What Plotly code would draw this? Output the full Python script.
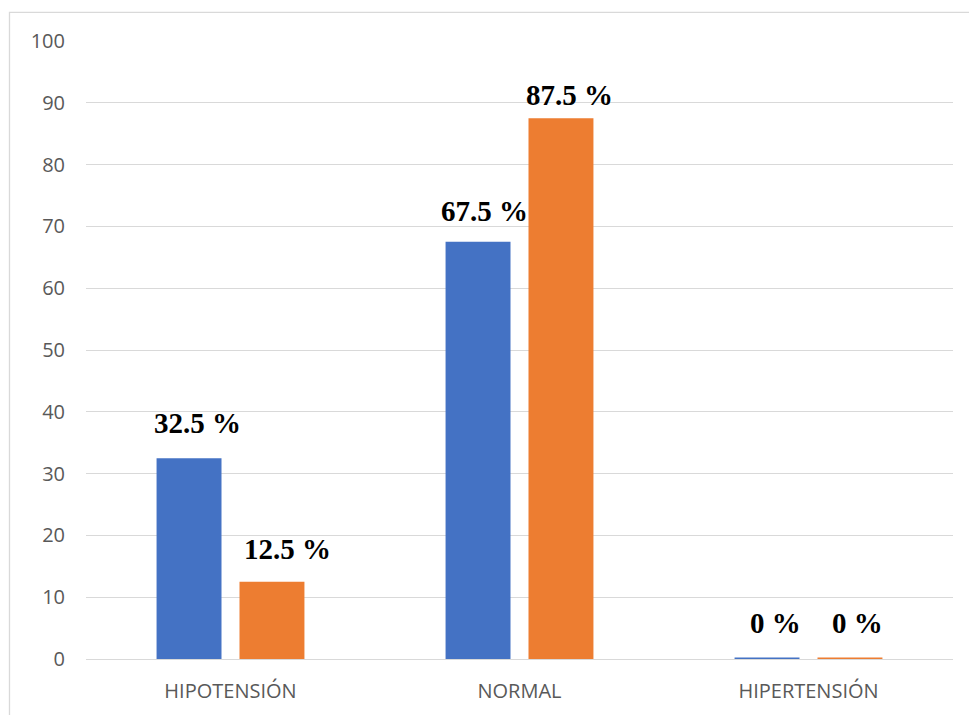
import plotly.graph_objects as go

# Blood-pressure classification, percentage per group
categories = ["HIPOTENSIÓN", "NORMAL", "HIPERTENSIÓN"]
serie_a = [32.5, 67.5, 0]
serie_b = [12.5, 87.5, 0]
y_ticks = [0, 10, 20, 30, 40, 50, 60, 70, 80, 90, 100]

BLUE = "#4472C4"
ORANGE = "#ED7D31"
GRID = "#D9D9D9"
TEXT = "#595959"

W, H = 969, 715
M_L, M_R, M_T, M_B = 86, 16, 41, 56
BARGAP, GROUPGAP = 0.426, 0.217

plot_w = W - M_L - M_R
cat_w = plot_w / len(categories)
bar_offset = (1 - BARGAP) * cat_w / 4  # pixel offset of each bar from category centre

# Label nudges (px) for each series' value labels
label_dx_a = [8, 6, 8]
label_dx_b = [16, 9, 8]
label_dy_a = [17, 13, 18]
label_dy_b = [15, 5, 18]

fig = go.Figure()
for vals, color in ((serie_a, BLUE), (serie_b, ORANGE)):
    fig.add_trace(go.Bar(
        x=categories, y=vals,
        marker=dict(color=color, line=dict(color=color, width=[0 if v else 3 for v in vals])),
        hoverinfo="skip",
    ))

label_font = dict(family="Liberation Serif", size=29, color="#000000")
for vals, side, dxs, dys in ((serie_a, -1, label_dx_a, label_dy_a), (serie_b, 1, label_dx_b, label_dy_b)):
    for cat, v, dx, dy in zip(categories, vals, dxs, dys):
        fig.add_annotation(
            x=cat, y=v, xref="x", yref="y",
            text=f"<b>{v:g} %</b>", showarrow=False,
            xanchor="center", yanchor="bottom",
            xshift=side * bar_offset + dx, yshift=dy,
            font=label_font,
        )

# Outer chart frame
fig.add_shape(
    type="rect", xref="paper", yref="paper",
    x0=(9.5 - M_L) / plot_w, x1=1.1,
    y0=-0.2, y1=1 + (M_T - 12.3) / (H - M_T - M_B),
    line=dict(color=GRID, width=1.3), fillcolor="rgba(0,0,0,0)", layer="below",
)

fig.update_layout(
    width=W, height=H,
    margin=dict(l=M_L, r=M_R, t=M_T, b=M_B),
    paper_bgcolor="white", plot_bgcolor="white",
    barmode="group", bargap=BARGAP, bargroupgap=GROUPGAP,
    showlegend=False,
    font=dict(family="Open Sans", size=20, color=TEXT),
)
fig.update_xaxes(
    showgrid=False, showline=True, linecolor=GRID, linewidth=1.3,
    ticks="", ticklabelstandoff=14,
    tickfont=dict(family="Open Sans", size=20, color=TEXT),
)
fig.update_yaxes(
    range=[0, 100], tickvals=y_ticks, showgrid=True, gridcolor=GRID, gridwidth=1.3,
    zeroline=False, showline=False, ticks="", ticklabelstandoff=20,
    tickfont=dict(family="Open Sans", size=20, color=TEXT),
)

fig.write_html("out.html")
